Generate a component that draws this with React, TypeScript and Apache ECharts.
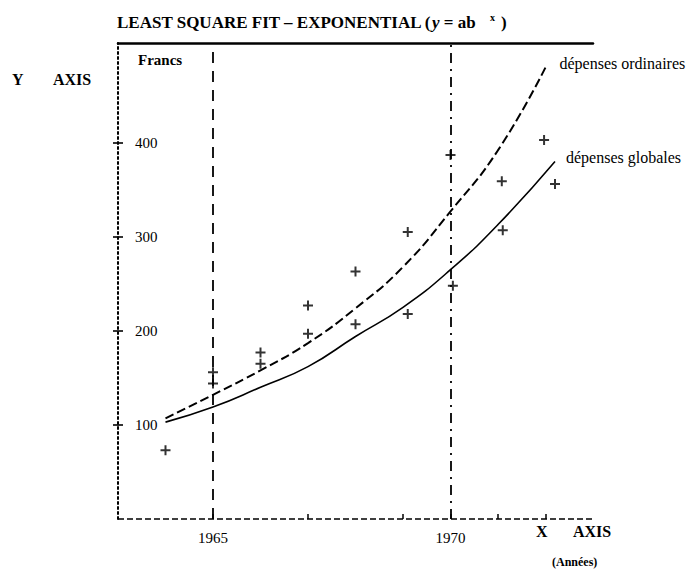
import React, { useEffect, useRef } from "react";
import * as echarts from "echarts";

// Observed points (+ marks): [year, Francs]
const upperPoints: [number, number][] = [
  [1965, 156], [1966, 177], [1967, 227], [1968, 263], [1969.1, 305],
  [1970, 387], [1971.08, 359], [1971.97, 403],
];
const lowerPoints: [number, number][] = [
  [1964, 73], [1965, 144], [1966, 165], [1967, 197], [1968, 207],
  [1969.1, 218], [1970.05, 248], [1971.1, 307], [1972.2, 356],
];

// Fitted curves
const ordinairesYears = [1964, 1965, 1966, 1967, 1968, 1969, 1970, 1971, 1972];
const ordinairesValues = [107, 132, 158, 187, 224, 268, 327, 392, 480];
const globalesYears = [1964, 1965, 1966, 1967, 1968, 1969, 1970, 1971, 1972.2];
const globalesValues = [103, 119, 140, 162, 194, 225, 265, 313, 380];

const yTickValues = [100, 200, 300, 400];
const xLabelValues = [1965, 1970];
const xTickValues = [1965, 1967, 1969, 1970, 1971, 1972];
const refYears = [1965, 1970];

const SERIF = "'Liberation Serif', 'DejaVu Serif', serif";
const PLUS = "path://M4,0 H6 V4 H10 V6 H6 V10 H4 V6 H0 V4 H4 Z";

export default function App() {
  const ref = useRef<HTMLDivElement>(null);
  useEffect(() => {
    if (!ref.current) return;
    const chart = echarts.init(ref.current, undefined, { renderer: "svg" });
    const ordData = ordinairesYears.map((y, i) => [y, ordinairesValues[i]]);
    const globData = globalesYears.map((y, i) => [y, globalesValues[i]]);
    chart.setOption({
      animation: false,
      backgroundColor: "#ffffff",
      textStyle: { fontFamily: SERIF, color: "#000" },
      grid: { left: 118, right: 101, top: 43, bottom: 52, containLabel: false, show: false },
      xAxis: [
        {
          type: "value",
          min: 1963,
          max: 1973,
          interval: 1,
          position: "bottom",
          axisLine: { show: false, onZero: false },
          axisTick: { show: true, inside: true, length: 5, customValues: xTickValues, lineStyle: { color: "#000", width: 1.5 } },
          axisLabel: {
            customValues: xLabelValues,
            margin: 11,
            fontFamily: SERIF,
            fontSize: 15,
            color: "#000",
            formatter: (v: number) => String(v),
          },
          splitLine: { show: false },
        },
        {
          type: "value",
          min: 1963,
          max: 1973,
          position: "top",
          axisLine: { onZero: false, lineStyle: { color: "#000", width: 2.5 } },
          axisTick: { show: false },
          axisLabel: { show: false },
          splitLine: { show: false },
        },
      ],
      yAxis: [
        {
          type: "value",
          min: 0,
          max: 506,
          interval: 100,
          position: "left",
          axisLine: { onZero: false, lineStyle: { color: "#000", width: 2, type: [2, 3] } },
          axisTick: { show: true, length: 5, customValues: yTickValues, lineStyle: { color: "#000", width: 1.6 } },
          axisLabel: {
            inside: true,
            margin: 17,
            customValues: yTickValues,
            fontFamily: SERIF,
            fontSize: 15,
            color: "#000",
          },
          splitLine: { show: false },
        },
        {
          type: "value",
          min: 0,
          max: 506,
          interval: 100,
          position: "left",
          offset: 0,
          axisLine: { show: false, onZero: false },
          axisTick: { show: true, inside: true, length: 5, customValues: yTickValues, lineStyle: { color: "#000", width: 1.6 } },
          axisLabel: { show: false },
          splitLine: { show: false },
        },
      ],
      series: [
        {
          type: "line",
          name: "dépenses ordinaires",
          data: ordData,
          smooth: true,
          showSymbol: false,
          lineStyle: { color: "#000", width: 2, type: [9, 4] },
          endLabel: {
            show: true,
            formatter: "dépenses ordinaires",
            fontFamily: SERIF,
            fontSize: 16,
            color: "#000",
            distance: 0,
            offset: [14, -4],
          },
          z: 3,
        },
        {
          type: "line",
          name: "dépenses globales",
          data: globData,
          smooth: true,
          showSymbol: false,
          lineStyle: { color: "#000", width: 1.6 },
          endLabel: {
            show: true,
            formatter: "dépenses globales",
            fontFamily: SERIF,
            fontSize: 16,
            color: "#000",
            distance: 0,
            offset: [11, -4],
          },
          z: 3,
        },
        {
          type: "scatter",
          data: upperPoints,
          symbol: PLUS,
          symbolSize: 10,
          itemStyle: { color: "#000" },
          markLine: {
            silent: true,
            symbol: ["none", "none"],
            label: { show: false },
            data: [
              { xAxis: refYears[0], lineStyle: { color: "#000", width: 1.8, type: [11, 8] } },
              { xAxis: refYears[1], lineStyle: { color: "#000", width: 1.8, type: [10, 6, 2, 6] } },
              { yAxis: 0, lineStyle: { color: "#000", width: 1.7, type: [6, 3] } },
            ],
          },
        },
        {
          type: "scatter",
          data: lowerPoints,
          symbol: PLUS,
          symbolSize: 10,
          itemStyle: { color: "#000" },
        },
      ],
      graphic: [
        {
          type: "text",
          left: 117,
          top: 12,
          style: {
            text: "{t|LEAST SQUARE FIT – EXPONENTIAL (}{i|y}{t| = ab }{s|x}{t|)}",
            rich: {
              t: { fontFamily: SERIF, fontSize: 17, fontWeight: "bold", fill: "#000" },
              i: { fontFamily: SERIF, fontSize: 17, fontWeight: "bold", fontStyle: "italic", fill: "#000" },
              s: { fontFamily: SERIF, fontSize: 10, fontWeight: "bold", fill: "#000", verticalAlign: "top", padding: [0, 6, 10, 10] },
            },
          },
        },
        {
          type: "text",
          left: 138,
          top: 52,
          style: { text: "Francs", fontFamily: SERIF, fontSize: 15, fontWeight: "bold", fill: "#000" },
        },
        {
          type: "text",
          left: 12,
          top: 71,
          style: { text: "Y", fontFamily: SERIF, fontSize: 16, fontWeight: "bold", fill: "#000" },
        },
        {
          type: "text",
          left: 53,
          top: 71,
          style: { text: "AXIS", fontFamily: SERIF, fontSize: 16, fontWeight: "bold", fill: "#000" },
        },
        {
          type: "text",
          left: 536,
          top: 523,
          style: { text: "X", fontFamily: SERIF, fontSize: 16, fontWeight: "bold", fill: "#000" },
        },
        {
          type: "text",
          left: 573,
          top: 523,
          style: { text: "AXIS", fontFamily: SERIF, fontSize: 16, fontWeight: "bold", fill: "#000" },
        },
        {
          type: "text",
          left: 552,
          top: 556,
          style: { text: "(Années)", fontFamily: SERIF, fontSize: 12, fontWeight: "bold", fill: "#000" },
        },
      ],
    });
    return () => chart.dispose();
  }, []);
  return (
    <div
      ref={ref}
      style={{ position: "fixed", left: 0, top: 0, width: 694, height: 571, background: "#fff" }}
    />
  );
}
